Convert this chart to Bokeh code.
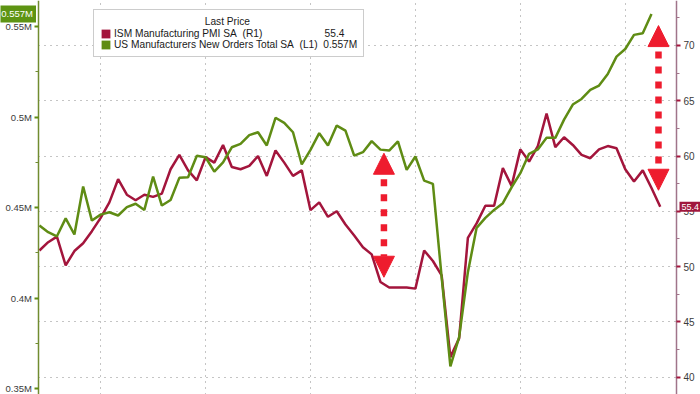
from bokeh.plotting import figure
from bokeh.models import (Range1d, LinearAxis, FixedTicker, Grid, Legend, LegendItem,
                          Label, Arrow, NormalHead)
from bokeh.embed import file_html
from bokeh.resources import INLINE

# ---------------- data (x = month index, 0 = May 2016 ... 71 = Apr 2022) ----------------
ism_pmi = [51.45, 52.2, 52.7, 50.1, 51.4, 52.1, 53.2, 54.4, 55.8, 57.9,
           56.5, 56.0, 56.5, 56.3, 56.6, 58.8, 60.1, 58.7, 57.8, 59.9,
           59.4, 61.0, 59.0, 58.8, 59.1, 60.0, 58.2, 60.5, 59.4, 58.2,
           58.7, 55.1, 55.8, 54.5, 55.0, 53.8, 52.8, 51.75, 51.1, 48.6,
           48.1, 48.1, 48.1, 48.0, 51.45, 50.5, 49.2, 41.8, 43.5, 52.6,
           53.9, 55.5, 55.5, 58.9, 57.3, 60.6, 59.5, 60.9, 63.85, 60.8,
           61.7, 61.0, 60.1, 59.8, 60.6, 60.9, 60.7, 58.8, 57.7, 58.7,
           57.1, 55.4]

new_orders = [0.4401, 0.4364, 0.4341, 0.4440, 0.4351, 0.4616, 0.4428, 0.4461, 0.4474, 0.4456,
              0.4502, 0.4521, 0.4487, 0.4671, 0.4511, 0.4542, 0.4664, 0.4667, 0.4786, 0.4778,
              0.4699, 0.4750, 0.4833, 0.4852, 0.4900, 0.4916, 0.4843, 0.4996, 0.4968, 0.4916,
              0.4738, 0.4819, 0.4911, 0.4843, 0.4953, 0.4925, 0.4787, 0.4806, 0.4867, 0.4820,
              0.4815, 0.4865, 0.4708, 0.4782, 0.4649, 0.4631, 0.4115, 0.3622, 0.3784, 0.4143,
              0.4388, 0.4443, 0.4487, 0.4524, 0.4612, 0.4690, 0.4797, 0.4821, 0.4885, 0.4885,
              0.4986, 0.5069, 0.5100, 0.5150, 0.5174, 0.5238, 0.5334, 0.5376, 0.5454, 0.5463,
              0.5570]

months_ism = list(range(len(ism_pmi)))
months_orders = list(range(len(new_orders)))

year_ticks = [7, 19, 31, 43, 55, 67]          # year boundaries (dotted verticals)

left_ticks = [0.35, 0.40, 0.45, 0.50, 0.55]
left_tick_labels = ["0.35M", "0.4M", "0.45M", "0.5M", "0.55M"]
left_minor = [0.375, 0.425, 0.475, 0.525]

right_ticks = [40, 45, 50, 55, 60, 65, 70]
right_minor = [42.5, 47.5, 52.5, 57.5, 62.5, 67.5, 72.5]

# dotted double arrows (month index, ISM top, ISM bottom)
arrow_x = [39.4, 70.8]
arrow_top = [60.25, 71.8]
arrow_bottom = [49.03, 56.9]

legend_title = "Last Price"
ism_name = "ISM Manufacturing PMI SA\u00a0 (R1)"
orders_name = "US Manufacturers New Orders Total SA\u00a0 (L1)"

# ---------------- layout / style ----------------
W, H = 700, 394
PX_PER_MONTH = 8.745
AXIS_LEFT_X = -0.05          # data x where the left axis sits
AXIS_RIGHT_X = 72.86         # data x where the right axis sits
LEFT_MARGIN_PX, RIGHT_MARGIN_PX = 38.5, 24

RED = "#a3153c"
GREEN = "#5f8c14"
GREEN_TAG = "#5e9413"
RED_TAG = "#a0173d"
ARROW = "#ee1c2e"
GRID = "#8a8a8a"
TXT = "#3a3a3a"
FONT = "Liberation Sans"

x_start = AXIS_LEFT_X - LEFT_MARGIN_PX / PX_PER_MONTH
x_end = AXIS_RIGHT_X + RIGHT_MARGIN_PX / PX_PER_MONTH

p = figure(width=W, height=H, output_backend="svg", toolbar_location=None,
           x_range=Range1d(x_start, x_end), y_range=Range1d(0.3467, 0.5644),
           x_axis_location=None, y_axis_location=None,
           min_border_left=0, min_border_right=0, min_border_top=0, min_border_bottom=0,
           background_fill_color="white", border_fill_color="white",
           outline_line_color=None)
p.extra_y_ranges = {"ism": Range1d(38.42, 74.07)}

# replace default grids
p.center = [r for r in p.center if not isinstance(r, Grid)]
p.add_layout(Grid(dimension=0, ticker=FixedTicker(ticks=year_ticks),
                  grid_line_color=GRID, grid_line_dash="1 5", grid_line_width=1))
p.add_layout(Grid(dimension=1, y_range_name="ism", ticker=FixedTicker(ticks=right_ticks),
                  cross_bounds=(AXIS_LEFT_X, AXIS_RIGHT_X),
                  grid_line_color=GRID, grid_line_dash="1 5", grid_line_width=1))

# axes
left_axis = LinearAxis(fixed_location=AXIS_LEFT_X,
                       ticker=FixedTicker(ticks=left_ticks, minor_ticks=left_minor),
                       major_label_overrides=dict(zip(left_ticks, left_tick_labels)))
right_axis = LinearAxis(y_range_name="ism", fixed_location=AXIS_RIGHT_X,
                        ticker=FixedTicker(ticks=right_ticks, minor_ticks=right_minor))
for ax, line_col, tick_col, fs in [(left_axis, "#718c30", GREEN, "9.5px"),
                                   (right_axis, "#a0748a", RED, "10px")]:
    ax.axis_line_color = line_col
    ax.axis_line_width = 1.5
    ax.major_tick_line_color = tick_col
    ax.major_tick_line_width = 2
    ax.major_tick_out = 4
    ax.major_tick_in = 0
    ax.minor_tick_line_color = line_col
    ax.minor_tick_out = 3
    ax.minor_tick_in = 0
    ax.major_label_standoff = 3
    ax.major_label_text_font = FONT
    ax.major_label_text_font_size = fs
    ax.major_label_text_color = TXT
p.add_layout(left_axis, "left")
p.add_layout(right_axis, "right")

# series
ism_r = p.line(x=months_ism, y=ism_pmi, y_range_name="ism", line_color=RED, line_width=2.5)
orders_r = p.line(x=months_orders, y=new_orders, line_color=GREEN, line_width=2.5)

# square legend keys (zero-size, hidden)
ism_key = p.quad(left=months_ism, right=months_ism, top=ism_pmi, bottom=ism_pmi,
                 y_range_name="ism", fill_color=RED, line_color=None, visible=False)
orders_key = p.quad(left=months_orders, right=months_orders, top=new_orders, bottom=new_orders,
                    fill_color=GREEN, line_color=None, visible=False)

ism_label = ism_name + "\u00a0" * 22 + f"{ism_pmi[-1]:.1f}"
orders_label = orders_name + "\u00a0\u00a0" + f"{new_orders[-1]:.3f}M"

legend = Legend(items=[LegendItem(label=ism_label, renderers=[ism_key]),
                       LegendItem(label=orders_label, renderers=[orders_key])],
                location=(93, 337), title="\u00a0" * 37 + legend_title,
                title_text_font=FONT, title_text_font_size="10.2px", title_standoff=1,
                title_text_font_style="normal", title_text_color="#1a1a1a",
                label_text_font=FONT, label_text_font_size="10.2px", label_text_color="#1a1a1a",
                glyph_width=11, glyph_height=11, label_height=11, label_standoff=3,
                spacing=0, padding=6, margin=0,
                border_line_color="#9a9a9a", border_line_width=1,
                background_fill_color="white", background_fill_alpha=1)
p.add_layout(legend, "center")

# dotted double arrows
for ax_x, top, bot, off in zip(arrow_x, arrow_top, arrow_bottom, [4, 4]):
    p.add_layout(Arrow(x_start=ax_x, y_start=top, x_end=ax_x, y_end=bot, y_range_name="ism",
                       start=NormalHead(size=21, fill_color=ARROW, line_color=ARROW),
                       end=NormalHead(size=21, fill_color=ARROW, line_color=ARROW),
                       line_color=ARROW, line_width=6.5, line_dash="7 8",
                       line_dash_offset=off))

# last value tags
p.add_layout(Label(x=AXIS_LEFT_X, y=new_orders[-1], text=f"{new_orders[-1]:.3f}M",
                   text_align="right", text_baseline="middle", x_offset=-3,
                   text_font=FONT, text_font_size="9.5px", text_color="white",
                   background_fill_color=GREEN_TAG, padding=3))
p.add_layout(Label(x=AXIS_RIGHT_X, y=ism_pmi[-1], y_range_name="ism",
                   text=f"{ism_pmi[-1]:.1f}",
                   text_align="left", text_baseline="middle", x_offset=3,
                   text_font=FONT, text_font_size="9px", text_color="white",
                   background_fill_color=RED_TAG, padding=2))

open("out.html", "w").write(file_html(p, INLINE))
